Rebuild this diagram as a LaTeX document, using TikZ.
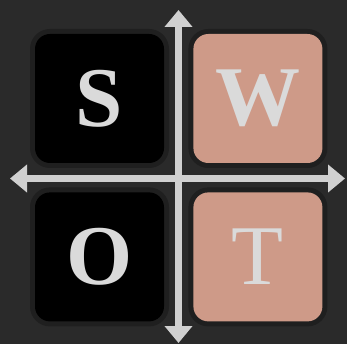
\documentclass[tikz,border=0pt]{standalone}
\usepackage{fontspec}
\setmainfont{Liberation Serif}
\usepackage{xcolor}
\definecolor{colorBg}{HTML}{2A2A2A}
\definecolor{colorHalo}{HTML}{1F1F1F}
\definecolor{colorStrength}{HTML}{000000}
\definecolor{colorWeak}{HTML}{CE9A88}
\definecolor{colorLetter}{HTML}{DADADA}
\definecolor{colorAxis}{HTML}{D0D0D0}
\usetikzlibrary{arrows.meta, positioning}
\tikzset{
  swotbox/.style={rectangle, rounded corners=15pt, minimum size=129pt, inner sep=0pt,
    text=colorLetter, font=\fontsize{85}{85}\selectfont\bfseries,
    preaction={draw=colorHalo, line width=10pt}},
  axis/.style={colorAxis, line width=6.5pt, {Triangle[width=27pt,length=17pt]}-{Triangle[width=27pt,length=17pt]}}
}

\begin{document}
\begin{tikzpicture}[x=1pt, y=-1pt, node distance=29pt]
\fill[colorBg] (0,0) rectangle (347,344);
\useasboundingbox (0,0) rectangle (347,344);
\node[swotbox, fill=colorStrength] (S) at (99.5,98.5) {S};
\node[swotbox, fill=colorWeak, right=of S] (W) {W};
\node[swotbox, fill=colorStrength, below=of S] (O) {O};
\node[swotbox, fill=colorWeak, below=of W, font=\fontsize{85}{85}\selectfont] (T) {T};
\coordinate (top) at (178.5,10);
\coordinate (bottom) at (178.5,343);
\coordinate (left) at (10,178.5);
\coordinate (right) at (345,178.5);
\draw[axis] (bottom) -- (top);
\draw[axis] (left) -- (right);
\end{tikzpicture}
\end{document}
